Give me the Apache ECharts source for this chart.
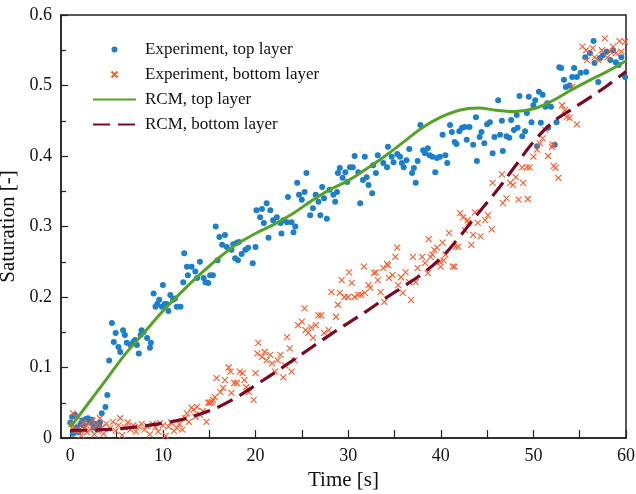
<!DOCTYPE html>
<html>
<head>
<meta charset="utf-8">
<script src="https://cdn.jsdelivr.net/npm/echarts@6/dist/echarts.min.js"></script>
<style>
  html, body { margin: 0; padding: 0; background: #fff; }
  #graph { width: 636px; height: 494px; }
</style>
</head>
<body>
<div id="graph"></div>
<script>
// ticks
const xTicks = [0, 10, 20, 30, 40, 50, 60];
const xTickMarks = [0, 5, 10, 15, 20, 25, 30, 35, 40, 45, 50, 55, 60];

// Experiment, top layer  [time s, saturation]
const expTop = [
  [0,0.022],[0.2,0.03],[0.3,0.006],[0.5,0.033],[0.7,0.015],[0.9,0.008],[1.1,0.02],[1.3,0.025],[1.5,0.018],[1.7,0.027],
  [1.9,0.028],[2.1,0.022],[2.3,0.026],[2.5,0.015],[2.7,0.02],[2.9,0.012],[3.1,0.018],[3.2,0.022],[3.4,0.035],[3.8,0.044],
  [4,0.061],[4.2,0.11],[4.5,0.163],[4.7,0.136],[4.9,0.149],[5.2,0.129],[5.4,0.122],[5.7,0.153],[5.9,0.146],[6.1,0.135],
  [6.5,0.132],[6.8,0.136],[7,0.139],[7.2,0.132],[7.4,0.12],[7.6,0.146],[7.7,0.153],[7.9,0.15],[8.3,0.142],[8.6,0.128],
  [8.7,0.135],[9,0.205],[9.2,0.186],[9.4,0.19],[9.6,0.196],[9.9,0.186],[10,0.217],[10.2,0.19],[10.4,0.19],[10.6,0.18],
  [10.8,0.203],[11.1,0.196],[11.3,0.198],[11.5,0.186],[11.9,0.186],[12.2,0.221],[12.3,0.262],[12.6,0.243],[12.7,0.231],[13.1,0.243],
  [13.5,0.236],[13.7,0.227],[14,0.25],[14.4,0.227],[14.6,0.221],[14.9,0.22],[15.1,0.231],[15.4,0.231],[15.7,0.3],[15.9,0.252],
  [16.1,0.285],[16.4,0.274],[16.7,0.288],[16.9,0.271],[17.4,0.267],[17.6,0.275],[17.8,0.255],[18,0.277],[18.1,0.252],[18.2,0.278],
  [18.5,0.261],[18.9,0.267],[19.2,0.27],[19.7,0.248],[20,0.271],[20.1,0.323],[20.5,0.313],[20.7,0.325],[20.9,0.305],[21.2,0.333],
  [21.4,0.284],[21.6,0.323],[21.9,0.309],[22.3,0.313],[22.7,0.305],[22.8,0.29],[23,0.309],[23.4,0.306],[23.5,0.342],[23.9,0.306],
  [24.1,0.292],[24.3,0.3],[24.5,0.362],[24.7,0.345],[25,0.338],[25.3,0.349],[25.5,0.376],[25.9,0.316],[26.2,0.326],[26.5,0.345],
  [26.8,0.335],[27,0.316],[27.2,0.356],[27.4,0.34],[27.7,0.311],[28,0.352],[28.4,0.345],[28.6,0.335],[28.8,0.349],[28.9,0.376],
  [29.1,0.383],[29.4,0.369],[29.7,0.377],[29.9,0.363],[30.2,0.384],[30.5,0.384],[30.7,0.4],[31.1,0.377],[31.3,0.333],[31.6,0.366],
  [31.8,0.399],[32,0.37],[32.2,0.359],[32.6,0.347],[32.7,0.387],[33,0.376],[33.2,0.401],[33.8,0.39],[34.2,0.384],[34.3,0.413],
  [34.7,0.399],[34.9,0.391],[35.3,0.403],[35.6,0.399],[35.8,0.39],[36,0.384],[36.3,0.394],[36.6,0.41],[36.9,0.376],[37.1,0.383],
  [37.3,0.362],[37.5,0.393],[37.8,0.444],[38.1,0.408],[38.3,0.404],[38.6,0.411],[38.8,0.401],[39.1,0.399],[39.4,0.377],[39.6,0.397],
  [39.9,0.399],[40.2,0.43],[40.5,0.401],[40.7,0.39],[41,0.444],[41.2,0.434],[41.5,0.42],[41.7,0.417],[42,0.435],[42.3,0.44],
  [42.6,0.441],[42.8,0.423],[43.1,0.441],[43.5,0.416],[43.8,0.455],[43.9,0.393],[44.2,0.427],[44.4,0.434],[44.7,0.418],[45,0.445],
  [45.3,0.448],[45.6,0.404],[45.8,0.427],[46.2,0.479],[46.4,0.43],[46.6,0.45],[46.7,0.407],[47.1,0.428],[47.4,0.426],[47.6,0.451],
  [47.9,0.437],[48.2,0.458],[48.3,0.44],[48.5,0.485],[48.8,0.428],[49.1,0.435],[49.3,0.461],[49.5,0.484],[49.8,0.448],[50,0.472],
  [50.2,0.479],[50.4,0.414],[50.6,0.491],[50.8,0.447],[51,0.487],[51.3,0.47],[51.5,0.475],[51.6,0.44],[51.9,0.47],[52.3,0.416],
  [52.5,0.448],[52.8,0.526],[53,0.525],[53.3,0.508],[53.5,0.498],[53.9,0.5],[54.2,0.512],[54.4,0.525],[54.7,0.512],[55.1,0.518],
  [55.6,0.54],[55.7,0.519],[56.1,0.546],[56.5,0.563],[56.6,0.532],[57,0.505],[57.2,0.539],[57.5,0.543],[57.9,0.548],[58.3,0.536],
  [58.6,0.55],[58.9,0.533],[59.2,0.529],[59.5,0.54],[59.9,0.512]
];

// Experiment, bottom layer
const expBottom = [
  [0.1,0.02],[0.3,0.035],[0.4,0.016],[0.6,0.01],[0.8,0.03],[1,0.012],[1.2,0.004],[1.4,0.022],[1.6,0.015],[1.8,0.008],
  [2,0.02],[2.2,0.012],[2.4,0.025],[2.6,0.005],[2.8,0.018],[3,0.01],[3.2,0.028],[3.4,0.015],[3.6,0.006],[3.9,0.02],
  [4.3,0.014],[4.6,0.023],[4.9,0.01],[5.2,0.018],[5.4,0.028],[5.6,0.004],[5.9,0.015],[6.2,0.022],[6.5,0.012],[6.8,0.018],
  [7.1,0.009],[7.4,0.016],[7.7,0.02],[8,0.012],[8.3,0.017],[8.6,0.005],[8.9,0.02],[9.2,0.015],[9.5,0.009],[9.7,0.021],
  [10,0.018],[10.3,0.003],[10.6,0.016],[10.9,0.022],[11.2,0.01],[11.5,0.014],[11.8,0.02],[12.1,0.012],[12.4,0.028],[12.6,0.035],
  [12.8,0.023],[13.1,0.043],[13.3,0.04],[13.5,0.03],[13.7,0.044],[14,0.033],[14.3,0.038],[14.7,0.023],[14.9,0.05],[15.1,0.05],
  [15.3,0.051],[15.4,0.054],[15.6,0.058],[15.8,0.085],[16.2,0.065],[16.5,0.071],[16.7,0.082],[17.1,0.1],[17.3,0.094],[17.4,0.064],
  [17.7,0.078],[18,0.078],[18.3,0.094],[18.6,0.092],[18.8,0.082],[19,0.072],[19.3,0.065],[19.8,0.054],[20,0.092],[20.2,0.12],
  [20.3,0.135],[20.7,0.115],[21,0.122],[21.2,0.11],[21.6,0.118],[21.8,0.106],[22.1,0.094],[22.4,0.11],[22.7,0.118],[23,0.086],
  [23.2,0.103],[23.4,0.143],[23.7,0.127],[23.9,0.094],[24.2,0.11],[24.6,0.16],[25,0.165],[25.3,0.184],[25.4,0.153],[25.7,0.149],
  [26,0.157],[26.2,0.142],[26.5,0.16],[26.8,0.174],[27.1,0.174],[27.4,0.149],[27.9,0.153],[28.2,0.207],[28.7,0.172],[28.9,0.189],
  [29.1,0.206],[29.3,0.224],[29.6,0.2],[30,0.2],[30.1,0.235],[30.4,0.22],[30.7,0.2],[31.1,0.203],[31.4,0.203],[31.7,0.243],
  [31.8,0.206],[32.2,0.217],[32.4,0.213],[32.8,0.234],[33,0.235],[33.2,0.224],[33.5,0.207],[33.8,0.241],[33.9,0.193],[34.2,0.247],
  [34.3,0.245],[34.4,0.227],[34.8,0.231],[35.1,0.257],[35.3,0.27],[35.4,0.217],[35.7,0.228],[35.9,0.206],[36.2,0.235],[36.6,0.221],
  [36.8,0.196],[37,0.257],[37.3,0.221],[37.5,0.241],[38,0.257],[38.3,0.248],[38.6,0.234],[38.7,0.282],[38.9,0.257],[39.1,0.26],
  [39.3,0.267],[39.6,0.27],[39.9,0.25],[40,0.243],[40.2,0.277],[40.3,0.252],[40.5,0.26],[40.9,0.291],[41.3,0.243],[41.5,0.243],
  [41.6,0.271],[41.9,0.271],[42.1,0.319],[42.4,0.313],[42.6,0.295],[42.9,0.309],[43,0.305],[43.3,0.274],[43.5,0.288],[43.7,0.32],
  [44,0.305],[44.3,0.286],[44.8,0.309],[45.1,0.316],[45.5,0.296],[45.6,0.362],[46.6,0.374],[46.7,0.333],[47.1,0.34],[47.5,0.362],
  [47.8,0.359],[48.1,0.37],[48.4,0.338],[48.8,0.384],[48.9,0.362],[49.3,0.384],[49.4,0.339],[49.6,0.384],[50,0.399],[50.4,0.409],
  [50.7,0.418],[51,0.425],[51.3,0.437],[51.6,0.4],[52,0.413],[52.1,0.416],[52.2,0.386],[52.4,0.383],[52.7,0.369],[53.1,0.472],
  [53.4,0.465],[53.6,0.455],[53.9,0.454],[54.2,0.498],[54.7,0.445],[55.3,0.555],[55.7,0.55],[55.8,0.536],[56.4,0.553],[56.6,0.54],
  [57,0.536],[57.4,0.55],[57.7,0.567],[58,0.54],[58.3,0.548],[58.6,0.555],[58.9,0.546],[59.3,0.563],[59.5,0.548],[59.9,0.562]
];

// RCM model curves
const rcmTop = [
  [0,0.015],[2,0.05],[4,0.085],[6,0.12],[8,0.15],[10,0.18],[12,0.207],[14,0.232],[16,0.255],[18,0.275],
  [20,0.29],[22,0.303],[24,0.318],[26,0.336],[28,0.352],[30,0.365],[32,0.382],[34,0.4],[36,0.42],[38,0.44],
  [40,0.455],[42,0.465],[44,0.468],[46,0.465],[48,0.463],[50,0.467],[52,0.478],[54,0.493],[56,0.507],[58,0.52],[60,0.535]
];
const rcmBottom = [
  [0,0.011],[2,0.011],[4,0.012],[6,0.014],[8,0.017],[10,0.021],[12,0.026],[14,0.034],[16,0.044],[18,0.058],
  [20,0.075],[22,0.092],[24,0.11],[26,0.128],[28,0.146],[30,0.163],[32,0.18],[34,0.198],[36,0.215],[38,0.233],
  [40,0.255],[42,0.285],[44,0.318],[46,0.35],[48,0.385],[50,0.42],[52,0.447],[54,0.465],[56,0.482],[58,0.5],[60,0.52]
];

const font = 'Liberation Serif';
const xMark = 'path://M0,0L10,10M10,0L0,10';

var myChart = echarts.init(document.getElementById('graph'));
myChart.setOption({
  animation: false,
  backgroundColor: '#fff',
  textStyle: {fontFamily: font},
  grid: {
    left: 61, right: 10, top: 15, bottom: 56,
    outerBoundsMode: 'none', containLabel: false,
    show: true, borderColor: '#222', borderWidth: 1.5, backgroundColor: 'transparent'
  },
  legend: {
    orient: 'vertical',
    left: 87, top: 36,
    itemWidth: 43, itemHeight: 6, itemGap: 8,
    textStyle: {fontFamily: font, fontSize: 17, color: '#111', padding: [0, 0, 0, 4]},
    data: [
      'Experiment, top layer',
      'Experiment, bottom layer',
      {name: 'RCM, top layer', itemStyle: {opacity: 0}},
      {name: 'RCM, bottom layer', itemStyle: {opacity: 0}}
    ]
  },
  xAxis: {
    type: 'value', min: -1, max: 60,
    name: 'Time [s]', nameLocation: 'middle', nameGap: 23,
    nameTextStyle: {fontFamily: font, fontSize: 21, color: '#111'},
    axisLine: {onZero: false, lineStyle: {color: '#222', width: 1.5}},
    axisTick: {inside: true, length: 8, customValues: xTickMarks, lineStyle: {color: '#222', width: 1.2}},
    axisLabel: {customValues: xTicks, fontFamily: font, fontSize: 18, color: '#111', margin: 9},
    splitLine: {show: false}
  },
  yAxis: {
    type: 'value', min: 0, max: 0.6, interval: 0.1,
    name: 'Saturation [-]', nameLocation: 'middle', nameGap: 40,
    nameTextStyle: {fontFamily: font, fontSize: 21, color: '#111'},
    axisLine: {show: true, onZero: false, lineStyle: {color: '#222', width: 1.5}},
    axisTick: {inside: true, length: 7, lineStyle: {color: '#222', width: 1.2}},
    minorTick: {show: true, splitNumber: 2, length: 5, lineStyle: {color: '#222', width: 1.2}},
    axisLabel: {fontFamily: font, fontSize: 18, color: '#111', margin: 9},
    splitLine: {show: false}
  },
  series: [
    {
      name: 'Experiment, top layer',
      type: 'scatter',
      symbol: 'circle',
      symbolSize: 6,
      itemStyle: {color: '#1b7fca', opacity: 1},
      data: expTop
    },
    {
      name: 'Experiment, bottom layer',
      type: 'scatter',
      symbol: xMark,
      symbolKeepAspect: true,
      symbolSize: 6,
      itemStyle: {color: 'transparent', borderColor: '#ff5a2b', borderWidth: 1.1, opacity: 1},
      data: expBottom
    },
    {
      name: 'RCM, top layer',
      type: 'line',
      smooth: 0.4,
      symbol: 'none',
      lineStyle: {color: '#56a227', width: 3},
      itemStyle: {color: '#56a227'},
      data: rcmTop
    },
    {
      name: 'RCM, bottom layer',
      type: 'line',
      smooth: 0.4,
      symbol: 'none',
      lineStyle: {color: '#7a0a22', width: 3.2, type: [17, 8]},
      itemStyle: {color: '#7a0a22'},
      data: rcmBottom
    }
  ]
});
</script>
</body>
</html>
